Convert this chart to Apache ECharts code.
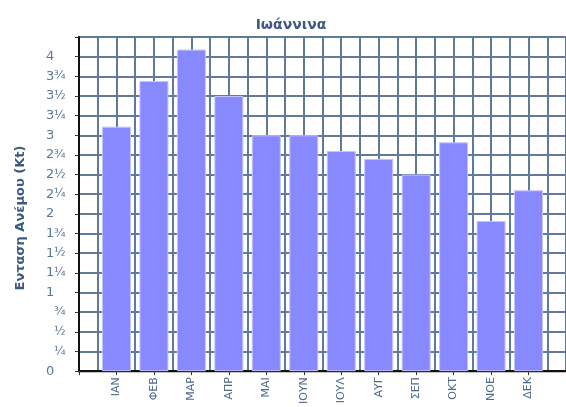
<!DOCTYPE html>
<html>
<head>
<meta charset="utf-8">
<script src="https://cdn.jsdelivr.net/npm/echarts@6/dist/echarts.min.js"></script>
<style>html,body{margin:0;padding:0;background:#fff}#c{width:566px;height:407px}</style>
</head>
<body>
<div id="c"></div>
<script>
var titleText = 'Ιωάννινα';
var yName = 'Ενταση Ανέμου (Kt)';
var months = ['ΙΑΝ','ΦΕΒ','ΜΑΡ','ΑΠΡ','ΜΑΙ','ΙΟΥΝ','ΙΟΥΛ','ΑΥΓ','ΣΕΠ','ΟΚΤ','ΝΟΕ','ΔΕΚ'];
var wind = [3.11, 3.69, 4.09, 3.50, 3.00, 3.00, 2.80, 2.70, 2.50, 2.91, 1.91, 2.30];
var fracLabels = {0:'', 0.25:'¼', 0.5:'½', 0.75:'¾'};

var chart = echarts.init(document.getElementById('c'), null, {renderer:'canvas'});
var data = wind.map(function(v,i){ return [i+1, v]; });

function yFmt(v){
  if (v > 4.01) return '';
  var ip = Math.floor(v + 1e-9);
  var fr = Math.round((v - ip)*100)/100;
  var ipStr = (ip === 0 && fr > 0) ? ' ' : String(ip);
  if (ip === 0 && fr === 0) ipStr = '0';
  return '{i|' + ipStr + '}{f|' + fracLabels[fr] + '}';
}

chart.setOption({
  animation:false,
  backgroundColor:'#fff',
  title:{text:titleText, left:286, top:13, textAlign:'center',
    textStyle:{fontFamily:'DejaVu Sans', fontSize:14, fontWeight:'bold', color:'#3d5a85'}},
  graphic:[{type:'text', x:21, y:218, rotation:Math.PI/2,
    style:{text:yName, fontFamily:'DejaVu Sans', fontSize:13, fontWeight:'bold', fill:'#3d5a85',
      textAlign:'center', textVerticalAlign:'middle'}}],
  grid:{left:79, top:37, width:494, bottom:31, show:true, borderColor:'#111', borderWidth:2, backgroundColor:'#fff'},
  xAxis:{type:'value', min:0, max:13, interval:1,
    axisLine:{show:true, lineStyle:{color:'#111', width:2}},
    axisTick:{show:true, length:4, lineStyle:{color:'#333'}},
    axisLabel:{rotate:90, margin:6, fontFamily:'DejaVu Sans', fontSize:11, color:'#4d6a8a',
      formatter:function(v){ return (v>=1 && v<=12) ? months[v-1] : ''; }},
    splitLine:{show:true, lineStyle:{color:'#5f7b98', width:2}},
    minorTick:{show:false, splitNumber:2},
    minorSplitLine:{show:true, lineStyle:{color:'#5f7b98', width:2}}
  },
  yAxis:{type:'value', min:0, max:4.25, interval:0.25,
    axisLine:{show:true, lineStyle:{color:'#111', width:2}},
    axisTick:{show:true, length:4, lineStyle:{color:'#333'}},
    axisLabel:{margin:33, align:'left', color:'#5a7898', fontFamily:'DejaVu Sans',
      formatter:yFmt,
      rich:{i:{fontFamily:'DejaVu Sans', fontSize:13, color:'#5a7898', width:8, align:'left'},
            f:{fontFamily:'DejaVu Sans', fontSize:12, color:'#5a7898'}}},
    splitLine:{show:true, lineStyle:{color:'#5f7b98', width:2}}
  },
  series:[{type:'bar', data:data, barWidth:29,
    itemStyle:{color:'#8888ff', borderColor:'#c4c4ff', borderWidth:1}}]
});
</script>
</body>
</html>
